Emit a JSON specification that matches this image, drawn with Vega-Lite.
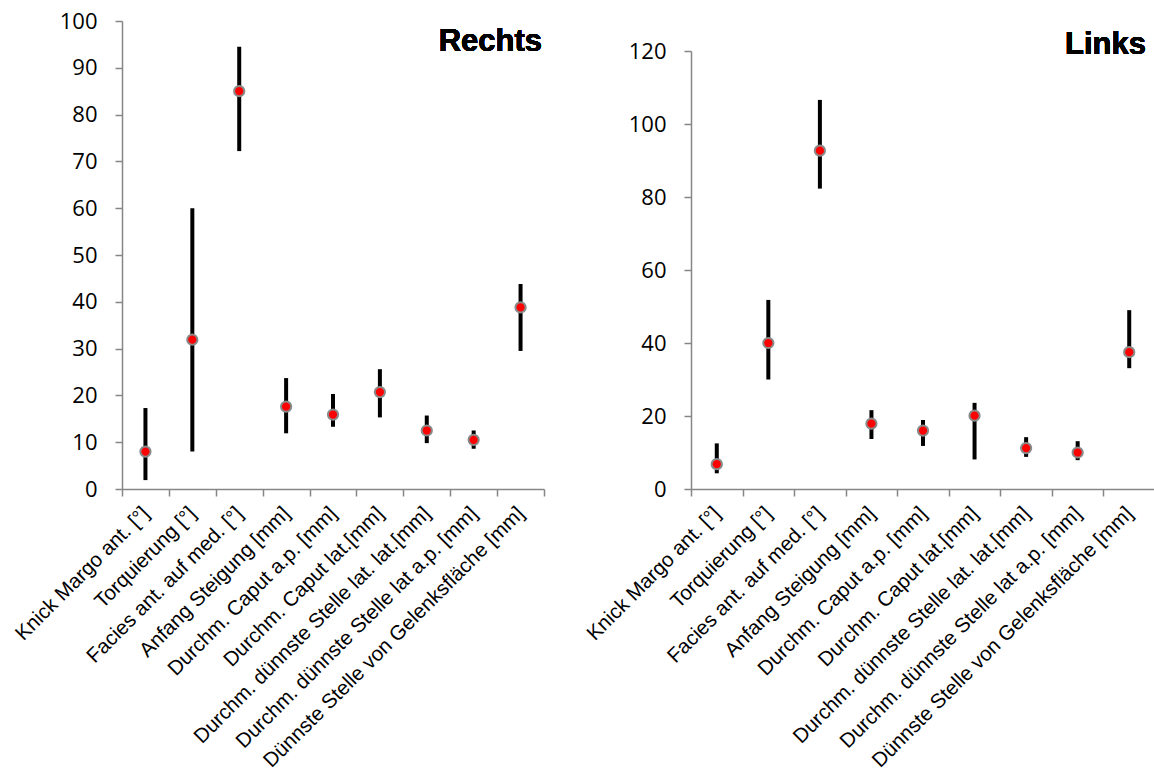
{
  "$schema": "https://vega.github.io/schema/vega-lite/v6.json",
  "padding": {"left": 11, "top": 10, "right": 0, "bottom": 0},
  "background": "white",
  "config": {
    "view": {"stroke": null},
    "axis": {"grid": false, "domainColor": "#868686", "domainWidth": 1.5, "tickColor": "#868686", "tickWidth": 1.5, "tickSize": 7, "labelColor": "#000000", "title": null}
  },
  "data": {"values": [
    {"side": "Rechts", "measure": "Knick Margo ant. [°]", "mean": 8.0, "low": 1.9, "high": 17.3},
    {"side": "Rechts", "measure": "Torquierung [°]", "mean": 31.9, "low": 8.0, "high": 60.0},
    {"side": "Rechts", "measure": "Facies ant. auf med. [°]", "mean": 85.0, "low": 72.2, "high": 94.5},
    {"side": "Rechts", "measure": "Anfang Steigung [mm]", "mean": 17.6, "low": 11.9, "high": 23.7},
    {"side": "Rechts", "measure": "Durchm. Caput a.p. [mm]", "mean": 15.9, "low": 13.3, "high": 20.3},
    {"side": "Rechts", "measure": "Durchm. Caput lat.[mm]", "mean": 20.7, "low": 15.3, "high": 25.6},
    {"side": "Rechts", "measure": "Durchm. dünnste Stelle lat. lat.[mm]", "mean": 12.5, "low": 9.8, "high": 15.7},
    {"side": "Rechts", "measure": "Durchm. dünnste Stelle lat a.p. [mm]", "mean": 10.5, "low": 8.6, "high": 12.5},
    {"side": "Rechts", "measure": "Dünnste Stelle von Gelenksfläche [mm]", "mean": 38.8, "low": 29.5, "high": 43.8},
    {"side": "Links", "measure": "Knick Margo ant. [°]", "mean": 6.8, "low": 4.3, "high": 12.5},
    {"side": "Links", "measure": "Torquierung [°]", "mean": 40.0, "low": 30.0, "high": 51.8},
    {"side": "Links", "measure": "Facies ant. auf med. [°]", "mean": 92.7, "low": 82.3, "high": 106.6},
    {"side": "Links", "measure": "Anfang Steigung [mm]", "mean": 17.9, "low": 13.7, "high": 21.6},
    {"side": "Links", "measure": "Durchm. Caput a.p. [mm]", "mean": 16.0, "low": 11.8, "high": 18.9},
    {"side": "Links", "measure": "Durchm. Caput lat.[mm]", "mean": 20.1, "low": 8.1, "high": 23.6},
    {"side": "Links", "measure": "Durchm. dünnste Stelle lat. lat.[mm]", "mean": 11.2, "low": 8.8, "high": 14.2},
    {"side": "Links", "measure": "Durchm. dünnste Stelle lat a.p. [mm]", "mean": 10.0, "low": 7.9, "high": 13.1},
    {"side": "Links", "measure": "Dünnste Stelle von Gelenksfläche [mm]", "mean": 37.5, "low": 33.1, "high": 49.0}
  ]},
  "spacing": 38,
  "hconcat": [
    {
      "width": 422,
      "height": 468,
      "transform": [{"filter": "datum.side === 'Rechts'"}],
      "encoding": {
        "x": {"field": "measure", "type": "nominal", "sort": null,
          "scale": {"paddingInner": 0, "paddingOuter": 0},
          "axis": {"tickBand": "extent", "labelAngle": -45, "labelAlign": "right", "labelBaseline": "top", "labelFont": "Liberation Sans", "labelFontSize": 20.5, "labelPadding": 7, "labelOffset": -7, "labelLimit": 600}}
      },
      "layer": [
        {"mark": {"type": "rule", "color": "#000000", "strokeWidth": 4},
         "encoding": {"y": {"field": "low", "type": "quantitative", "scale": {"domain": [0, 100], "nice": false},
            "axis": {"values": [0,10,20,30,40,50,60,70,80,90,100], "labelFont": "Open Sans", "labelFontSize": 22, "labelPadding": 18}},
           "y2": {"field": "high"}}},
        {"mark": {"type": "circle", "fill": "#ff0000", "stroke": "#8a8a8a", "strokeWidth": 2, "opacity": 1, "size": 105},
         "encoding": {"y": {"field": "mean", "type": "quantitative"}}},
        {"mark": {"type": "text", "text": "Rechts", "align": "right", "baseline": "alphabetic", "font": "Liberation Sans", "fontSize": 31, "fontWeight": "bold", "color": "#000000", "dx": -2},
         "encoding": {"x": {"datum": "Dünnste Stelle von Gelenksfläche [mm]", "bandPosition": 1}, "y": {"datum": 93.6}}}
      ]
    },
    {
      "width": 464,
      "height": 468,
      "transform": [{"filter": "datum.side === 'Links'"}],
      "encoding": {
        "x": {"field": "measure", "type": "nominal", "sort": null,
          "scale": {"paddingInner": 0, "paddingOuter": 0},
          "axis": {"tickBand": "extent", "labelAngle": -45, "labelAlign": "right", "labelBaseline": "top", "labelFont": "Liberation Sans", "labelFontSize": 20.5, "labelPadding": 7, "labelOffset": -7, "labelLimit": 600}}
      },
      "layer": [
        {"mark": {"type": "rule", "color": "#000000", "strokeWidth": 4},
         "encoding": {"y": {"field": "low", "type": "quantitative", "scale": {"domain": [0, 120], "nice": false, "range": [468, 30]},
            "axis": {"values": [0,20,40,60,80,100,120], "labelFont": "Open Sans", "labelFontSize": 22, "labelPadding": 18}},
           "y2": {"field": "high"}}},
        {"mark": {"type": "circle", "fill": "#ff0000", "stroke": "#8a8a8a", "strokeWidth": 2, "opacity": 1, "size": 105},
         "encoding": {"y": {"field": "mean", "type": "quantitative"}}},
        {"mark": {"type": "text", "text": "Links", "align": "right", "baseline": "alphabetic", "font": "Liberation Sans", "fontSize": 31, "fontWeight": "bold", "color": "#000000", "dx": -9},
         "encoding": {"x": {"datum": "Dünnste Stelle von Gelenksfläche [mm]", "bandPosition": 1}, "y": {"datum": 119.2}}}
      ]
    }
  ]
}
